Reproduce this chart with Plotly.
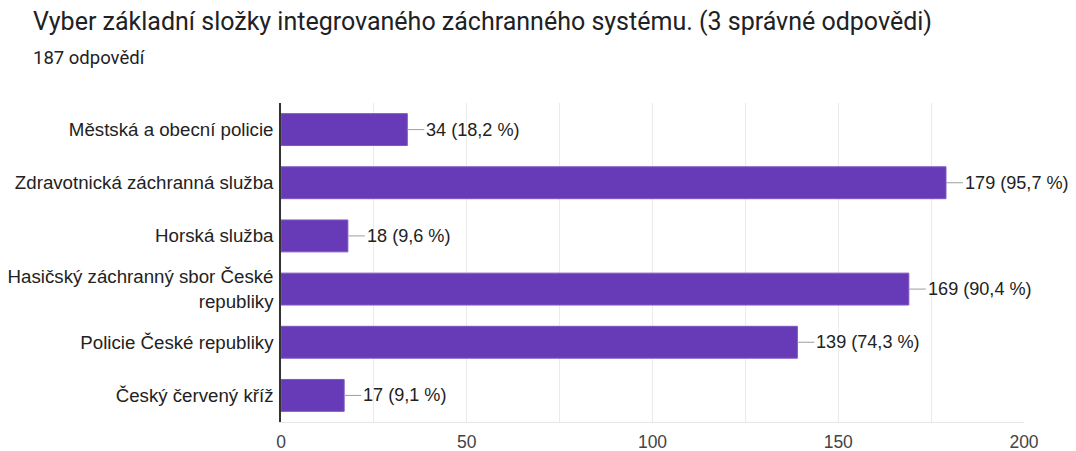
import plotly.graph_objects as go

categories = [
    "Městská a obecní policie",
    "Zdravotnická záchranná služba",
    "Horská služba",
    "Hasičský záchranný sbor České<br>republiky",
    "Policie České republiky",
    "Český červený kříž",
]
counts = [34, 179, 18, 169, 139, 17]
percents = ["18,2", "95,7", "9,6", "90,4", "74,3", "9,1"]
tick_vals = [0, 50, 100, 150, 200]

ARIAL = "Liberation Sans, Arial"

fig = go.Figure()
fig.add_trace(go.Bar(
    x=counts, y=categories, orientation="h",
    marker=dict(color="#673AB7", line=dict(color="#7E57C2", width=1)),
    hoverinfo="skip",
))

for c, cat, p in zip(counts, categories, percents):
    fig.add_annotation(
        x=c, y=cat, xref="x", yref="y",
        text=f"{c} ({p} %)",
        showarrow=True, arrowhead=0, arrowwidth=1, arrowcolor="#9e9e9e",
        ax=17, ay=0, axref="pixel", ayref="pixel",
        xanchor="left", yanchor="middle",
        font=dict(family=ARIAL, size=18.1, color="#222222"),
        standoff=0, startstandoff=0,
    )

fig.add_annotation(
    text="Vyber základní složky integrovaného záchranného systému. (3 správné odpovědi)",
    xref="paper", yref="paper", x=0, y=1, xanchor="left", yanchor="middle",
    xshift=-250, yshift=82, showarrow=False,
    font=dict(family="Roboto", size=25, color="#202124"),
)
fig.add_annotation(
    text="187 odpovědí",
    xref="paper", yref="paper", x=0, y=1, xanchor="left", yanchor="middle",
    xshift=-250, yshift=45, showarrow=False,
    font=dict(family="Roboto", size=18.5, color="#202124"),
)

fig.update_layout(
    width=1068, height=443,
    margin=dict(l=273, r=52, t=95, b=29),
    paper_bgcolor="white", plot_bgcolor="white",
    bargap=0.4, showlegend=False,
    font=dict(family=ARIAL, size=18.7, color="#222222"),
)
fig.update_xaxes(
    range=[0, 200], tickvals=tick_vals, ticktext=[str(v) for v in tick_vals],
    showgrid=True, gridcolor="#ebebeb", gridwidth=1,
    minor=dict(tickvals=[25, 75, 125, 175], showgrid=True, gridcolor="#ebebeb"),
    showline=True, linecolor="#e6e6e6", linewidth=1,
    zeroline=False, ticks="", ticklen=0, tickfont=dict(size=17.5, color="#444444"),
    ticklabelstandoff=4, automargin=False, fixedrange=True,
)
fig.update_yaxes(
    categoryorder="array", categoryarray=categories[::-1],
    showline=True, linecolor="#333333", linewidth=1.5,
    showgrid=False, ticks="", ticklen=0, ticklabelstandoff=2,
    tickfont=dict(size=18.7, color="#222222"), automargin=False, fixedrange=True,
)

fig.write_html("out.html")
